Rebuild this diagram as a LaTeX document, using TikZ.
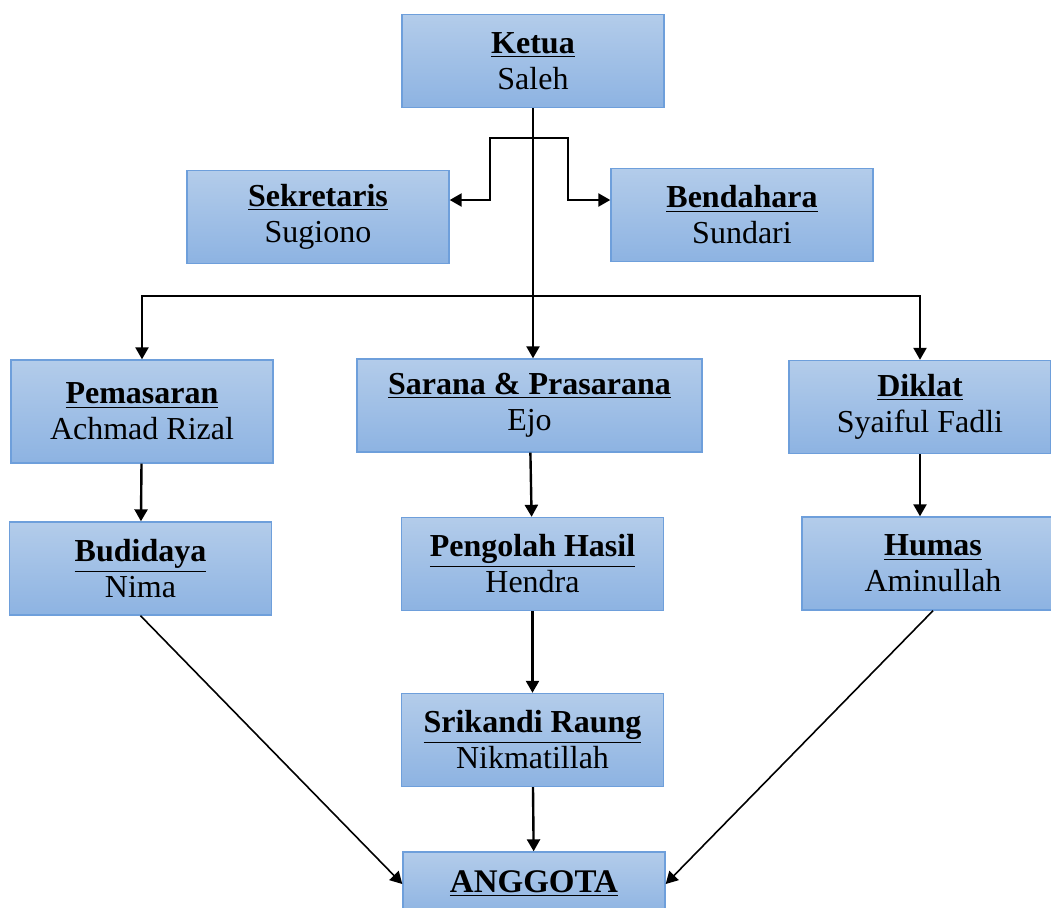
\documentclass[tikz,border=0pt]{standalone}
\usepackage{fontspec}
\setmainfont{Liberation Serif}
\usetikzlibrary{positioning,calc,arrows.meta}
\definecolor{boxtop}{HTML}{B3CCEA}
\definecolor{boxbot}{HTML}{8DB3E2}
\definecolor{boxline}{HTML}{6E9FDB}
\tikzset{>={Triangle[length=6pt,width=6.5pt]}}
\tikzset{box/.style={draw=boxline,line width=0.7pt,top color=boxtop,bottom color=boxbot,
  minimum width=131pt,minimum height=46.5pt,align=center,inner sep=0pt,
  font=\fontsize{16}{18}\selectfont}}
\tikzset{conn/.style={->,line width=1.2pt}}
\tikzset{diag/.style={->,line width=0.8pt}}
\newcommand*{\jb}[2]{\underline{\textbf{#1}}\\#2}

\begin{document}
\begin{tikzpicture}[x=0.5pt,y=-0.5pt]
\useasboundingbox (0,0) rectangle (1051,907);
\node[box] (ketua) at (533,61) {\jb{Ketua}{Saleh}};
\node[box] (sekre) at (318,217) {\jb{Sekretaris}{Sugiono}};
\node[box] (benda) at (742,215) {\jb{Bendahara}{Sundari}};
\node[box,minimum height=51.5pt] (pemas) at (142,411.5) {\jb{Pemasaran}{Achmad Rizal}};
\node[box,minimum width=172.5pt] (sarana) at (529.5,405.5) {\jb{Sarana \& Prasarana}{Ejo}};
\node[box] (diklat) at (920,407) {\jb{Diklat}{Syaiful Fadli}};
\node[box] (budi) at (140.5,568.5) {\jb{Budidaya}{Nima}};
\node[box] (olah) at (532.5,564) {\jb{Pengolah Hasil}{Hendra}};
\node[box] (humas) at (933,563.5) {\jb{Humas}{Aminullah}};
\node[box] (srik) at (532.5,740) {\jb{Srikandi Raung}{Nikmatillah}};
\node[box,minimum height=32pt,font=\fontsize{16.5}{20}\selectfont] (anggota) at (534,884)
  {\underline{\textbf{ANGGOTA}}};

% ketua
\draw[conn] (ketua.south) -- (ketua.south |- sarana.north);
\draw[conn] ($(ketua.south)+(0,30)$) -- ++(-43,0) |- ([yshift=8.5pt]sekre.east);
\draw[conn] ($(ketua.south)+(0,30)$) -- ++(35,0) |- ([yshift=7.5pt]benda.west);
\draw[conn] (ketua.south |- 0,296) -| (pemas.north);
\draw[conn] (ketua.south |- 0,296) -| (diklat.north);

% bidang
\draw[conn] (pemas) -- (budi);
\draw[conn] (sarana) -- (olah);
\draw[conn] (diklat.south) -- (diklat.south |- humas.north);
\draw[conn] (olah) -- (srik);
\draw[conn] (srik) -- (anggota);
\draw[diag] (budi.south) -- (anggota.west);
\draw[diag] (humas.south) -- (anggota.east);
\end{tikzpicture}
\end{document}
